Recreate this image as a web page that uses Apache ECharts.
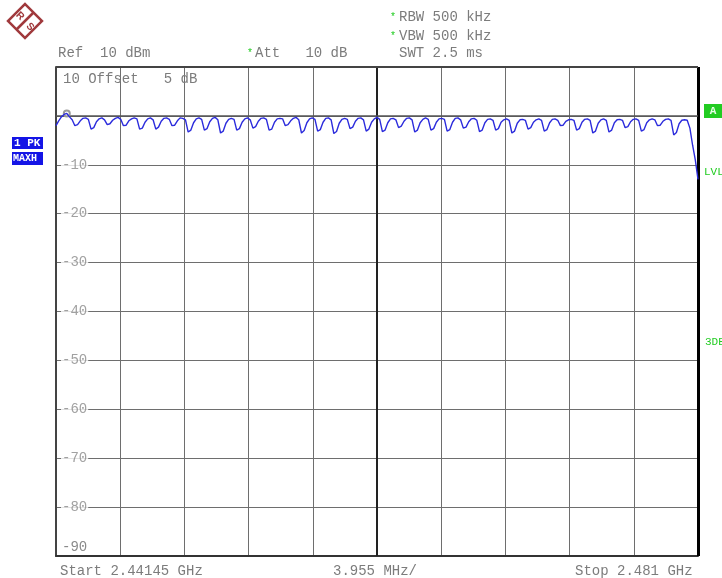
<!DOCTYPE html>
<html>
<head>
<meta charset="utf-8">
<script src="https://cdn.jsdelivr.net/npm/echarts@6/dist/echarts.min.js"></script>
<style>
html,body{margin:0;padding:0;background:#fff;}
#chart{width:722px;height:578px;}
</style>
</head>
<body>
<div id="chart"></div>
<script>
// Sweep settings
const startLabel = 'Start 2.44145 GHz';
const stopLabel = 'Stop 2.481 GHz';
const divLabel = '3.955 MHz/';
const spanKHz = 39550;      // 2.481 GHz - 2.44145 GHz
const divKHz = 3955;
const refLevel = 10;
const bottomLevel = -90;
const yStep = 10;
const yTickLabels = [-10, -20, -30, -40, -50, -60, -70, -80];

// Trace 1 (PK, MAXH) levels in dBm, uniformly spaced sweep points
const levels = [
  -2.0, -1.0, -0.2, 0.3, 0.5, -0.2, -0.8,
  -2.0, -1.8, -1.0, -0.5, -0.4, -0.7,
  -2.7, -2.4, -1.2, -0.6, -0.4, -0.8,
  -1.8, -1.6, -0.9, -0.5, -0.3, -0.7,
  -2.0, -1.9, -1.0, -0.6, -0.4, -0.6,
  -2.7, -2.5, -1.3, -0.6, -0.4, -0.8,
  -2.7, -2.3, -1.1, -0.5, -0.4, -0.7,
  -2.0, -1.9, -1.0, -0.4, -0.5, -0.8,
  -3.3, -2.9, -1.4, -0.6, -0.4, -0.7,
  -2.9, -2.6, -1.2, -0.5, -0.3, -0.8,
  -3.5, -3.1, -1.5, -0.7, -0.5, -0.7,
  -2.9, -2.6, -1.3, -0.6, -0.4, -0.8,
  -2.5, -2.2, -1.1, -0.5, -0.4, -0.7,
  -2.9, -2.7, -1.3, -0.6, -0.5, -0.6,
  -2.0, -1.8, -1.0, -0.5, -0.3, -0.8,
  -3.5, -3.0, -1.4, -0.6, -0.4, -0.7,
  -3.1, -2.8, -1.3, -0.5, -0.4, -0.8,
  -3.6, -3.2, -1.5, -0.7, -0.5, -0.7,
  -2.6, -2.3, -1.1, -0.5, -0.4, -0.8,
  -3.1, -2.7, -1.3, -0.6, -0.3, -0.7,
  -3.2, -2.9, -1.4, -0.6, -0.5, -0.8,
  -2.4, -2.1, -1.1, -0.5, -0.4, -0.8,
  -3.3, -2.9, -1.4, -0.7, -0.4, -0.7,
  -2.9, -2.6, -1.3, -0.6, -0.5, -0.7,
  -3.1, -2.8, -1.3, -0.5, -0.4, -0.8,
  -2.5, -2.3, -1.2, -0.6, -0.5, -0.9,
  -3.2, -2.9, -1.4, -0.7, -0.6, -0.9,
  -2.9, -2.6, -1.3, -0.8, -0.6, -0.9,
  -3.5, -3.1, -1.5, -0.8, -0.7, -0.9,
  -2.7, -2.4, -1.3, -0.8, -0.6, -0.9,
  -3.1, -2.8, -1.4, -0.7, -0.6, -0.9,
  -2.0, -1.9, -1.1, -0.8, -0.7, -0.9,
  -2.9, -2.6, -1.3, -0.7, -0.6, -0.9,
  -3.5, -3.1, -1.5, -0.8, -0.6, -0.9,
  -3.3, -2.9, -1.4, -0.8, -0.7, -0.9,
  -2.4, -2.2, -1.2, -0.7, -0.6, -0.9,
  -3.1, -2.8, -1.4, -0.8, -0.6, -0.8,
  -2.0, -1.9, -1.1, -0.7, -0.6, -0.9,
  -3.9, -3.4, -1.6, -0.9, -0.8, -0.9, -2.5, -6.0, -9.0, -13.0
];
const markerIndex = 4;   // marker 1 position on the trace
const displayLine = 0;   // display line level (dBm)

const n = levels.length;
const traceData = levels.map((v, i) => [i * spanKHz / (n - 1), v]);

const MONO = '"Liberation Mono", "DejaVu Sans Mono", monospace';
const GRAY = '#7c7c7c';
const GREEN = '#22cc22';

const chart = echarts.init(document.getElementById('chart'), null, {renderer: 'canvas'});
chart.setOption({
  animation: false,
  backgroundColor: '#fff',
  grid: {left: 56, right: 24, top: 67, bottom: 22, containLabel: false},
  xAxis: {
    type: 'value', min: 0, max: spanKHz, interval: divKHz,
    axisLabel: {show: false}, axisTick: {show: false},
    axisLine: {show: true, onZero: false, lineStyle: {color: '#333', width: 2}},
    splitLine: {show: true, lineStyle: {color: '#6e6e6e', width: 1}}
  },
  yAxis: {
    type: 'value', min: bottomLevel, max: refLevel, interval: yStep,
    axisTick: {show: false},
    axisLine: {show: true, onZero: false, lineStyle: {color: '#444', width: 2}},
    splitLine: {show: true, lineStyle: {color: '#6e6e6e', width: 1}},
    axisLabel: {show: false}
  },
  series: [{
    type: 'line', data: traceData, showSymbol: false, silent: true,
    lineStyle: {color: '#2b2bdc', width: 1.4},
    z: 5,
    markPoint: {
      silent: true, symbol: 'emptyCircle', symbolSize: 6,
      itemStyle: {color: '#999', borderColor: '#999', borderWidth: 1},
      label: {show: false},
      data: [{coord: traceData[markerIndex]}]
    },
    markLine: {
      silent: true, symbol: 'none', label: {show: false},
      data: [
        {xAxis: spanKHz / 2, lineStyle: {color: '#222', width: 2, type: 'solid'}},
        {xAxis: spanKHz, lineStyle: {color: '#000', width: 3, type: 'solid'}},
        {yAxis: refLevel, lineStyle: {color: '#444', width: 2, type: 'solid'}},
        {yAxis: displayLine, lineStyle: {color: '#555', width: 1.5, type: 'solid'}}
      ]
    }
  }, {
    // level labels placed inside the grid on each gridline
    type: 'scatter', silent: true, symbolSize: 0, z: 8,
    data: yTickLabels.map(v => [0, v]),
    label: {
      show: true, position: 'right', distance: 5,
      formatter: p => String(p.value[1]),
      color: '#8a8a8a', fontFamily: MONO, fontSize: 14,
      backgroundColor: '#fff', padding: [1, 1]
    }
  }],
  graphic: [
    // R&S logo
    {type: 'rect', shape: {x: -12, y: -12, width: 24, height: 24}, x: 25, y: 21, rotation: Math.PI / 4,
      style: {fill: 'none', stroke: '#a0393c', lineWidth: 2.5}},
    {type: 'line', shape: {x1: 17, y1: 29, x2: 33, y2: 13}, style: {stroke: '#a0393c', lineWidth: 2.5}},
    {type: 'text', x: 20, y: 16, rotation: -Math.PI / 4, style: {text: 'R', font: 'bold 10px "Liberation Sans"', fill: '#a0393c', align: 'center', verticalAlign: 'middle'}},
    {type: 'text', x: 30, y: 27, rotation: -Math.PI / 4, style: {text: 'S', font: 'bold 10px "Liberation Sans"', fill: '#a0393c', align: 'center', verticalAlign: 'middle'}},
    // header
    {type: 'text', x: 58, y: 53, style: {text: 'Ref  10 dBm', font: '14px ' + MONO, fill: GRAY, verticalAlign: 'middle'}},
    {type: 'text', x: 247, y: 53, style: {text: '*', font: '10px ' + MONO, fill: GREEN, verticalAlign: 'middle'}},
    {type: 'text', x: 255, y: 53, style: {text: 'Att   10 dB', font: '14px ' + MONO, fill: GRAY, verticalAlign: 'middle'}},
    {type: 'text', x: 390, y: 17, style: {text: '*', font: '10px ' + MONO, fill: GREEN, verticalAlign: 'middle'}},
    {type: 'text', x: 399, y: 17, style: {text: 'RBW 500 kHz', font: '14px ' + MONO, fill: GRAY, verticalAlign: 'middle'}},
    {type: 'text', x: 390, y: 36, style: {text: '*', font: '10px ' + MONO, fill: GREEN, verticalAlign: 'middle'}},
    {type: 'text', x: 399, y: 36, style: {text: 'VBW 500 kHz', font: '14px ' + MONO, fill: GRAY, verticalAlign: 'middle'}},
    {type: 'text', x: 399, y: 53, style: {text: 'SWT 2.5 ms', font: '14px ' + MONO, fill: GRAY, verticalAlign: 'middle'}},
    // in-plot labels
    {type: 'text', x: 63, y: 79, z: 10, style: {text: '10 Offset   5 dB', font: '14px ' + MONO, fill: GRAY, verticalAlign: 'middle'}},
    {type: 'text', x: 62, y: 547, z: 10, style: {text: '-90', font: '14px ' + MONO, fill: '#8a8a8a', verticalAlign: 'middle'}},
    // trace boxes
    {type: 'rect', shape: {x: 12, y: 137, width: 31, height: 12}, style: {fill: '#1414e6'}},
    {type: 'text', x: 14, y: 143, style: {text: '1 PK', font: 'bold 11px ' + MONO, fill: '#fff', verticalAlign: 'middle'}},
    {type: 'rect', shape: {x: 12, y: 152, width: 31, height: 13}, style: {fill: '#1414e6'}},
    {type: 'text', x: 13, y: 158.5, style: {text: 'MAXH', font: 'bold 10px ' + MONO, fill: '#fff', verticalAlign: 'middle'}},
    // right side markers
    {type: 'rect', shape: {x: 704, y: 104, width: 18, height: 14}, style: {fill: GREEN}},
    {type: 'text', x: 713, y: 111, style: {text: 'A', font: 'bold 11px ' + MONO, fill: '#e8ffe8', align: 'center', verticalAlign: 'middle'}},
    {type: 'text', x: 704, y: 172, style: {text: 'LVL', font: '11px ' + MONO, fill: GREEN, verticalAlign: 'middle'}},
    {type: 'text', x: 705, y: 342, style: {text: '3DB', font: '11px ' + MONO, fill: GREEN, verticalAlign: 'middle'}},
    // footer
    {type: 'text', x: 60, y: 571, style: {text: startLabel, font: '14px ' + MONO, fill: GRAY, verticalAlign: 'middle'}},
    {type: 'text', x: 375, y: 571, style: {text: divLabel, font: '14px ' + MONO, fill: GRAY, align: 'center', verticalAlign: 'middle'}},
    {type: 'text', x: 575, y: 571, style: {text: stopLabel, font: '14px ' + MONO, fill: GRAY, verticalAlign: 'middle'}}
  ]
});
</script>
</body>
</html>
